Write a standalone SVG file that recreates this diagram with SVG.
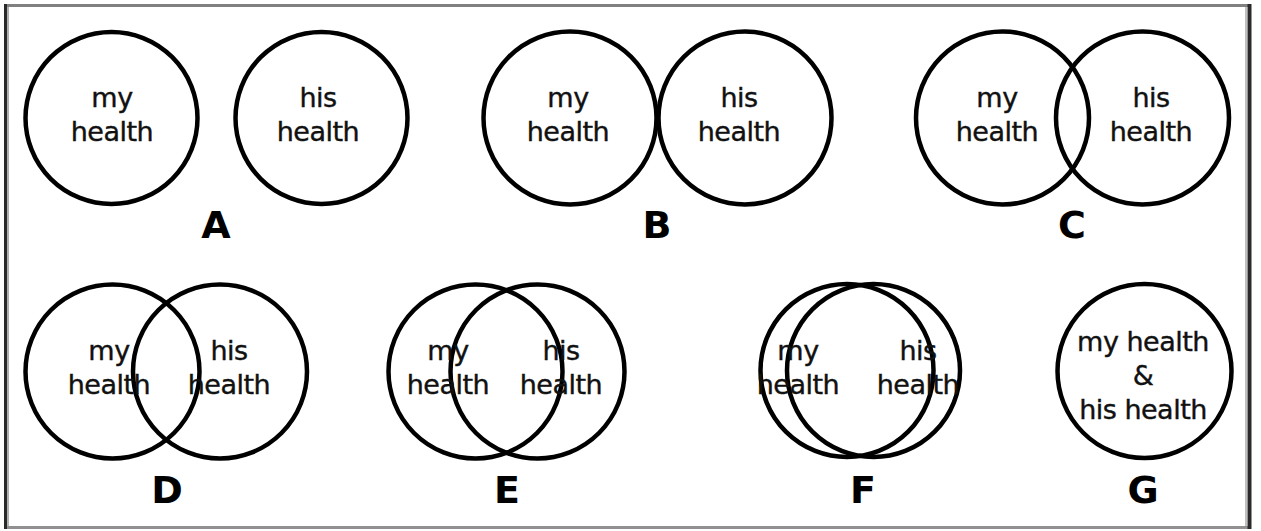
<svg xmlns="http://www.w3.org/2000/svg" width="1261" height="531" viewBox="0 0 1261 531">
<style>
.c{fill:none;stroke:#000;stroke-width:4.5}
.t{font-family:"DejaVu Sans","Liberation Sans",sans-serif;font-size:27px;letter-spacing:-0.5px;fill:#111;stroke:#111;stroke-width:0.4;text-anchor:middle}
.l{font-family:"DejaVu Sans","Liberation Sans",sans-serif;font-size:38px;font-weight:bold;fill:#000;text-anchor:middle}
</style>
<rect x="0" y="0" width="1261" height="531" fill="#fff"/>
<g id="frame">
<rect x="5" y="5" width="1245" height="522" fill="#fff" stroke="none"/>
<line x1="4" y1="5.5" x2="1251" y2="5.5" stroke="#808080" stroke-width="3"/>
<line x1="4" y1="527.5" x2="1251" y2="527.5" stroke="#909090" stroke-width="3"/>
<line x1="5.5" y1="4" x2="5.5" y2="529" stroke="#2a2a2a" stroke-width="3"/>
<line x1="8" y1="7" x2="8" y2="526" stroke="#b0b0b0" stroke-width="2"/>
<line x1="1249.5" y1="4" x2="1249.5" y2="529" stroke="#2a2a2a" stroke-width="4"/>
<line x1="1246" y1="7" x2="1246" y2="526" stroke="#c0c0c0" stroke-width="2"/>
</g>
<g id="A">
<circle class="c" cx="111.5" cy="118" r="86"/>
<circle class="c" cx="321.5" cy="118" r="86"/>
<text class="t" x="112" y="107">my</text>
<text class="t" x="112" y="140.5">health</text>
<text class="t" x="318" y="107">his</text>
<text class="t" x="318" y="140.5">health</text>
<text class="l" x="216" y="238">A</text>
</g>
<g id="B">
<circle class="c" cx="570" cy="118" r="86.5"/>
<circle class="c" cx="745" cy="118" r="86.5"/>
<text class="t" x="568" y="107">my</text>
<text class="t" x="568" y="140.5">health</text>
<text class="t" x="739" y="107">his</text>
<text class="t" x="739" y="140.5">health</text>
<text class="l" x="657" y="238">B</text>
</g>
<g id="C">
<circle class="c" cx="1002.5" cy="118" r="86.5"/>
<circle class="c" cx="1142.5" cy="118" r="86.5"/>
<text class="t" x="997" y="107">my</text>
<text class="t" x="997" y="140.5">health</text>
<text class="t" x="1151" y="107">his</text>
<text class="t" x="1151" y="140.5">health</text>
<text class="l" x="1072" y="238">C</text>
</g>
<g id="D">
<circle class="c" cx="112.5" cy="371.5" r="87"/>
<circle class="c" cx="220" cy="371.5" r="87"/>
<text class="t" x="109" y="360">my</text>
<text class="t" x="109" y="394">health</text>
<text class="t" x="229" y="360">his</text>
<text class="t" x="229" y="394">health</text>
<text class="l" x="167" y="503">D</text>
</g>
<g id="E">
<circle class="c" cx="475.5" cy="371.5" r="87"/>
<circle class="c" cx="537.5" cy="371.5" r="87"/>
<text class="t" x="448" y="360">my</text>
<text class="t" x="448" y="394">health</text>
<text class="t" x="561" y="360">his</text>
<text class="t" x="561" y="394">health</text>
<text class="l" x="507" y="503">E</text>
</g>
<g id="F">
<circle class="c" cx="847" cy="370.5" r="86.5"/>
<circle class="c" cx="873.5" cy="370.5" r="86.5"/>
<text class="t" x="798" y="360">my</text>
<text class="t" x="798" y="394">health</text>
<text class="t" x="918" y="360">his</text>
<text class="t" x="918" y="394">health</text>
<text class="l" x="863" y="503">F</text>
</g>
<g id="G">
<circle class="c" cx="1144.5" cy="371" r="87"/>
<text class="t" x="1143" y="351">my health</text>
<text class="t" x="1143" y="385">&amp;</text>
<text class="t" x="1143" y="419">his health</text>
<text class="l" x="1143" y="503">G</text>
</g>
<g id="connectors"/>
</svg>
